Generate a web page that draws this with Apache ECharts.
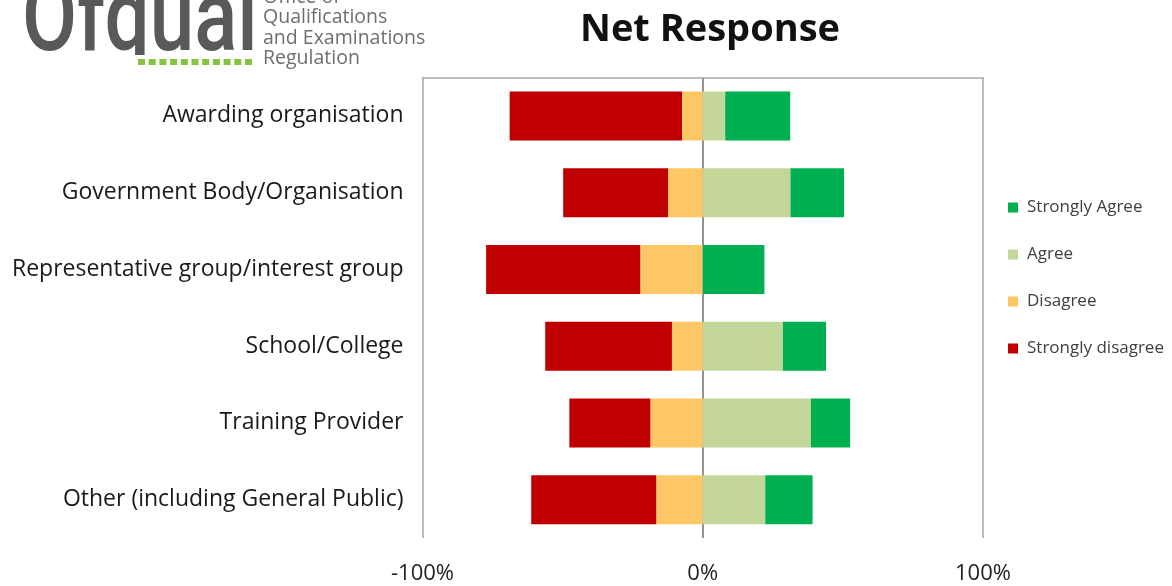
<!DOCTYPE html>
<html>
<head>
<meta charset="utf-8">
<title>Net Response</title>
<script src="https://cdn.jsdelivr.net/npm/echarts@6/dist/echarts.min.js"></script>
<style>
  html, body { margin: 0; padding: 0; background: #ffffff; }
  #chart { width: 1172px; height: 586px; }
</style>
</head>
<body>
<div id="chart"></div>
<script>
// Respondent groups, top to bottom
var categories = [
  'Awarding organisation',
  'Government Body/Organisation',
  'Representative group/interest group',
  'School/College',
  'Training Provider',
  'Other (including General Public)'
];

// Share of responses (%) per group
var stronglyDisagree = [61.5, 37.4, 55.0, 45.2, 28.9, 44.6];
var disagree         = [7.4, 12.4, 22.3, 11.0, 18.7, 16.6];
var agree            = [8.0, 31.3, 0, 28.6, 38.6, 22.3];
var stronglyAgree    = [23.2, 19.1, 22.0, 15.4, 14.0, 16.9];

// Axis ticks
var tickValues = [-100, 0, 100];

var FONT = '"Open Sans", "Noto Sans", sans-serif';

function negate(arr) { return arr.map(function (v) { return -v; }); }

// Green dotted strip under the logo
var dots = [];
for (var i = 0; i < 11; i++) {
  dots.push({
    type: 'rect',
    shape: { x: 138 + i * 10.7, y: 59, width: 7, height: 6 },
    style: { fill: '#86c440' },
    silent: true
  });
}

var chart = echarts.init(document.getElementById('chart'), null, { renderer: 'canvas' });

chart.setOption({
  backgroundColor: '#ffffff',
  animation: false,
  title: {
    text: 'Net Response',
    left: 705,
    top: 6,
    textAlign: 'center',
    textStyle: { fontFamily: FONT, fontWeight: 'bold', fontSize: 38, color: '#111111' }
  },
  legend: {
    orient: 'vertical',
    left: 1003,
    top: 194,
    itemWidth: 10,
    itemHeight: 10,
    itemGap: 30,
    icon: 'rect',
    data: ['Strongly Agree', 'Agree', 'Disagree', 'Strongly disagree'],
    textStyle: { fontFamily: FONT, fontSize: 17, lineHeight: 16, color: '#404040', padding: [0, 0, 0, 4] }
  },
  grid: { left: 422.5, right: 189, top: 77.5, bottom: 48, containLabel: false },
  xAxis: [
    {
      type: 'value',
      min: tickValues[0],
      max: tickValues[tickValues.length - 1],
      interval: 100,
      axisLine: { show: false },
      axisTick: { show: false },
      axisLabel: {
        formatter: function (v) { return v + '%'; },
        fontFamily: FONT, fontSize: 22, color: '#222222', margin: 25
      },
      splitLine: { show: true, lineStyle: { color: ['#a6a6a6', '#6e6e6e', '#a6a6a6'], width: 1.5 } }
    },
    {
      type: 'value',
      position: 'top',
      min: tickValues[0],
      max: tickValues[tickValues.length - 1],
      axisLine: { show: true, onZero: false, lineStyle: { color: '#a6a6a6', width: 1.5 } },
      axisTick: { show: false },
      axisLabel: { show: false },
      splitLine: { show: false }
    }
  ],
  yAxis: {
    type: 'category',
    inverse: true,
    data: categories,
    axisLine: { show: false },
    axisTick: { show: false },
    axisLabel: { fontFamily: FONT, fontSize: 23, color: '#1a1a1a', margin: 19 }
  },
  graphic: [
    {
      type: 'text',
      left: 22, top: -25,
      scaleX: 0.8,
      style: { text: 'Ofqual', font: '500 100px Roboto, "Open Sans", sans-serif', fill: '#59595b' },
      silent: true
    },
    {
      // trims the long descender of the q so the wordmark sits on the dotted strip
      type: 'rect',
      shape: { x: 90, y: 55, width: 60, height: 20 },
      style: { fill: '#ffffff' },
      silent: true
    },
    {
      type: 'text',
      left: 263, top: -13,
      style: {
        text: 'Office of\nQualifications\nand Examinations\nRegulation',
        font: '19.5px "Open Sans", sans-serif',
        lineHeight: 20.5,
        fill: '#6d6e71'
      },
      silent: true
    }
  ].concat(dots),
  series: [
    {
      name: 'Disagree', type: 'bar', stack: 'net', barWidth: 49,
      itemStyle: { color: '#fdc765' },
      data: negate(disagree)
    },
    {
      name: 'Strongly disagree', type: 'bar', stack: 'net', barWidth: 49,
      itemStyle: { color: '#c00000' },
      data: negate(stronglyDisagree)
    },
    {
      name: 'Agree', type: 'bar', stack: 'net', barWidth: 49,
      itemStyle: { color: '#c4d79b' },
      data: agree
    },
    {
      name: 'Strongly Agree', type: 'bar', stack: 'net', barWidth: 49,
      itemStyle: { color: '#00b050' },
      data: stronglyAgree
    }
  ]
});
</script>
</body>
</html>
